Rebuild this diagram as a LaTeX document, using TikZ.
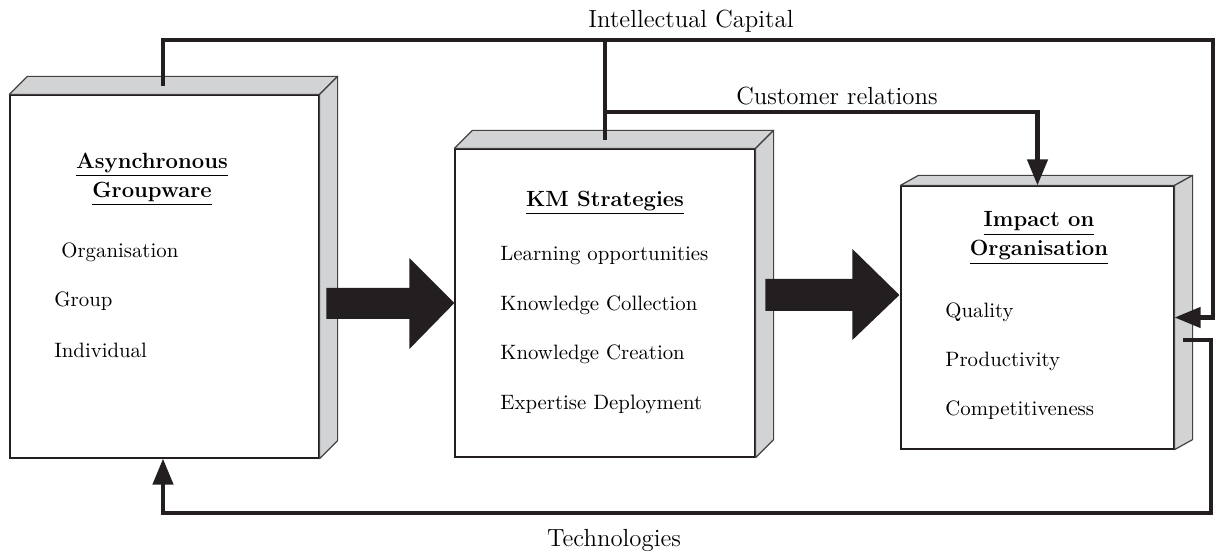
\documentclass[tikz,border=0pt]{standalone}
\usetikzlibrary{arrows.meta,calc}
\definecolor{facegray}{HTML}{D1D3D4}
\definecolor{ink}{HTML}{231F20}
\begin{document}
\begin{tikzpicture}[x=0.5pt,y=-0.5pt,
 face/.style={fill=facegray,draw=ink!85,line width=0.6pt,line join=round},
 front/.style={draw=ink,fill=white,line width=0.6pt,inner sep=0pt},
 conn/.style={draw=ink,line width=2.2pt},
 tipped/.style={-{Triangle[length=13pt,width=10pt]}},
 bigarrow/.style={fill=ink},
 title/.style={font=\fontsize{11}{14.5}\selectfont\bfseries,align=center},
 item/.style={anchor=west,font=\fontsize{10.4}{12}\selectfont,inner sep=0pt},
 lab/.style={font=\fontsize{12.4}{14}\selectfont,inner sep=0pt}]
\useasboundingbox (0,0) rectangle (1215,555);

% front faces
\node[front,minimum width=154.5pt,minimum height=181.5pt] (b1) at (164.5,276.5) {};
\node[front,minimum width=150pt,minimum height=154pt] (b2) at (605,303) {};
\node[front,minimum width=136.5pt,minimum height=131.5pt] (b3) at (1037.5,317.5) {};

% 3D faces
\foreach \b/\dy in {b1/-18,b2/-18,b3/-10}{
  \draw[face] (\b.north west) -- ++(18,\dy) -- ($(\b.north east)+(18,\dy)$) -- (\b.north east) -- cycle;
  \draw[face] (\b.north east) -- ++(18,\dy) -- ($(\b.south east)+(18,\dy)$) -- (\b.south east) -- cycle;
}

% titles
\node[title] (t1) at (152,179) {\underline{Asynchronous}\\\underline{Groupware}};
\node[title] (t2) at (605,203) {\underline{KM Strategies}};
\node[title] (t3) at (1039,238) {\underline{Impact on}\\\underline{Organisation}};

% items
\node[item] (i11) at (61,252) {Organisation};
\node[item] (i12) at (54,301) {Group};
\node[item] (i13) at (54,350) {Individual};

\node[item] (i21) at (500,256) {Learning opportunities};
\node[item] (i22) at (500,305) {Knowledge Collection};
\node[item] (i23) at (500,354) {Knowledge Creation};
\node[item] (i24) at (500,404) {Expertise Deployment};

\node[item] (i31) at (945,312) {Quality};
\node[item] (i32) at (945,361) {Productivity};
\node[item] (i33) at (945,410) {Competitiveness};

% big block arrows
\fill[bigarrow] (b2.west) -- ++(-45,-45) -- ++(0,30) -- ++(-83,0) -- ++(0,31) -- ++(83,0) -- ++(0,30) -- cycle;
\fill[bigarrow] ($(b3.west)+(-1,-22.5)$) -- ++(-47,-46) -- ++(0,30) -- ++(-87,0) -- ++(0,32) -- ++(87,0) -- ++(0,29) -- cycle;

% connector coordinates
\coordinate (ic1) at (163,86);
\coordinate (ictr) at (1213,40);
\coordinate (icm) at (605,40);
\coordinate (ic2) at (605,140);
\coordinate (cr) at (605,112);
\coordinate (t0) at (1183,340);
\coordinate (tr) at (1211,513);
\coordinate (tl) at (163,513);

% connectors
\draw[conn,tipped] (ic1) |- (ictr) |- (b3.east);
\draw[conn] (icm) -- (ic2);
\draw[conn,tipped] (cr) -| (b3.north);
\draw[conn,tipped] (t0) -| (tr) -- (tl) -- (tl |- b1.south);

% labels
\node[lab] (l1) at (691,21) {Intellectual Capital};
\node[lab] (l2) at (837,96) {Customer relations};
\node[lab] (l3) at (614,540) {Technologies};
\end{tikzpicture}
\end{document}
